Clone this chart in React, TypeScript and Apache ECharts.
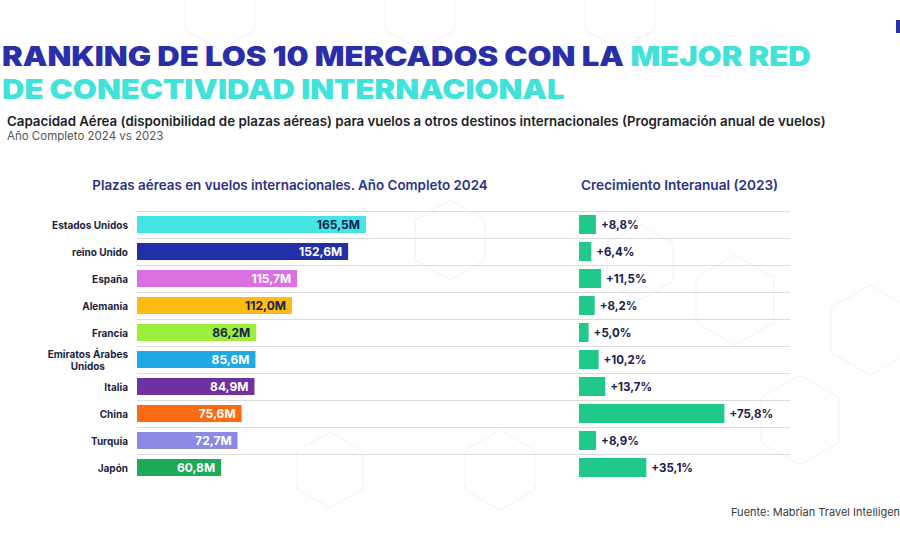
import React, { useEffect, useRef } from "react";
import * as echarts from "echarts";

const categories = [
  "Estados Unidos",
  "reino Unido",
  "España",
  "Alemania",
  "Francia",
  "Emiratos Árabes Unidos",
  "Italia",
  "China",
  "Turquía",
  "Japón",
];
const seats2024 = [165.5, 152.6, 115.7, 112.0, 86.2, 85.6, 84.9, 75.6, 72.7, 60.8];
const growthPct = [8.8, 6.4, 11.5, 8.2, 5.0, 10.2, 13.7, 75.8, 8.9, 35.1];

const barColors = [
  "#44e5e3",
  "#2230a8",
  "#dc6fe2",
  "#fdba13",
  "#9cee3b",
  "#20a9e6",
  "#6f30a0",
  "#fd6a14",
  "#8b8be6",
  "#1caa58",
];
const labelColors = [
  "#1b2050",
  "#ffffff",
  "#ffffff",
  "#1b2050",
  "#1b2050",
  "#ffffff",
  "#ffffff",
  "#ffffff",
  "#ffffff",
  "#ffffff",
];

const FONT = "Inter, 'Noto Sans', sans-serif";
const NAVY = "#2a2fa9";
const CYAN = "#40e2da";

const fmt = (v: number) => v.toFixed(1).replace(".", ",");

function hex(cx: number, cy: number, r: number) {
  const pts: number[][] = [];
  for (let i = 0; i < 6; i++) {
    const a = (Math.PI / 3) * i - Math.PI / 2;
    pts.push([cx + r * Math.cos(a), cy + r * Math.sin(a)]);
  }
  return {
    type: "polygon",
    silent: true,
    z: -10,
    shape: { points: pts },
    style: { fill: "none", stroke: "#f1f1f4", lineWidth: 1 },
  };
}

export default function App() {
  const ref = useRef<HTMLDivElement>(null);
  useEffect(() => {
    if (!ref.current) return;
    const chart = echarts.init(ref.current, null, { renderer: "svg" });
    const gridTop = 211;
    const gridH = 270;
    chart.setOption({
      animation: false,
      backgroundColor: "#ffffff",
      textStyle: { fontFamily: FONT },
      grid: [
        { left: 137, right: 110, top: gridTop, height: gridH, containLabel: false },
        { left: 579, right: 110, top: gridTop, height: gridH, containLabel: false },
      ],
      xAxis: [
        { type: "value", gridIndex: 0, min: 0, max: 472, show: false },
        { type: "value", gridIndex: 1, min: 0, max: 110, show: false },
      ],
      yAxis: [
        {
          type: "category",
          gridIndex: 0,
          data: categories,
          inverse: true,
          axisLine: { show: false },
          axisTick: { show: false },
          splitLine: { show: true, lineStyle: { color: "#dcdcdf", width: 1 } },
          axisLabel: {
            margin: 9,
            fontSize: 10,
            fontWeight: "bold",
            color: "#1b1f3d",
            fontFamily: FONT,
            formatter: (v: string) =>
              v === "Emiratos Árabes Unidos" ? "{c|Emiratos Árabes}\n{c|Unidos}" : v,
            rich: {
              c: {
                align: "center",
                fontSize: 10,
                fontWeight: "bold",
                color: "#1b1f3d",
                fontFamily: FONT,
                lineHeight: 12,
              },
            },
          },
        },
        {
          type: "category",
          gridIndex: 1,
          data: categories,
          inverse: true,
          show: false,
        },
      ],
      series: [
        {
          type: "bar",
          xAxisIndex: 0,
          yAxisIndex: 0,
          barWidth: 17,
          data: seats2024.map((v, i) => ({
            value: v,
            itemStyle: { color: barColors[i] },
            label: { color: labelColors[i] },
          })),
          label: {
            show: true,
            position: "insideRight",
            distance: 6,
            fontSize: 12,
            fontWeight: "bold",
            fontFamily: FONT,
            formatter: (p: any) => fmt(p.value) + "M",
          },
        },
        {
          type: "bar",
          xAxisIndex: 1,
          yAxisIndex: 1,
          barWidth: 19,
          itemStyle: { color: "#1fc98a" },
          data: growthPct,
          label: {
            show: true,
            position: "right",
            distance: 5,
            fontSize: 11.5,
            fontWeight: "bold",
            color: "#1b2050",
            fontFamily: FONT,
            formatter: (p: any) => "+" + fmt(p.value) + "%",
          },
        },
      ],
      graphic: [
        hex(450, 240, 40),
        hex(640, 262, 38),
        hex(735, 300, 45),
        hex(870, 330, 45),
        hex(800, 420, 45),
        hex(500, 470, 40),
        hex(330, 470, 38),
        hex(420, 10, 40),
        hex(220, 10, 40),
        hex(620, 10, 40),
        {
          type: "rect",
          z: 100,
          silent: true,
          shape: { x: 130, y: gridTop + gridH - 2, width: 680, height: 4 },
          style: { fill: "#ffffff" },
        },
        {
          type: "rect",
          shape: { x: 896, y: 20, width: 4, height: 13 },
          style: { fill: "#2a2fa9" },
        },
        {
          type: "text",
          x: 2,
          y: 56,
          scaleX: 1.15,
          style: {
            text: "{a|RANKING DE LOS 10 MERCADOS CON LA }{b|MEJOR RED}",
            verticalAlign: "middle",
            rich: {
              a: { fontFamily: FONT, fontWeight: 900, fontSize: 27, fill: NAVY },
              b: { fontFamily: FONT, fontWeight: 900, fontSize: 27, fill: CYAN },
            },
          },
        },
        {
          type: "text",
          x: 2,
          y: 89.5,
          scaleX: 1.15,
          style: {
            text: "DE CONECTIVIDAD INTERNACIONAL",
            verticalAlign: "middle",
            fontFamily: FONT,
            fontWeight: 900,
            fontSize: 27,
            fill: CYAN,
          },
        },
        {
          type: "text",
          x: 7,
          y: 121,
          style: {
            text:
              "Capacidad Aérea (disponibilidad de plazas aéreas) para vuelos a otros destinos internacionales (Programación anual de vuelos)",
            verticalAlign: "middle",
            fontFamily: FONT,
            fontWeight: 600,
            fontSize: 13.3,
            fill: "#1e1f2b",
          },
        },
        {
          type: "text",
          x: 7,
          y: 136,
          style: {
            text: "Año Completo 2024 vs 2023",
            verticalAlign: "middle",
            fontFamily: FONT,
            fontSize: 11.5,
            fill: "#555555",
          },
        },
        {
          type: "text",
          x: 290,
          y: 185,
          style: {
            text: "Plazas aéreas en vuelos internacionales. Año Completo 2024",
            align: "center",
            verticalAlign: "middle",
            fontFamily: FONT,
            fontWeight: 600,
            fontSize: 13.4,
            fill: "#2b3387",
          },
        },
        {
          type: "text",
          x: 581,
          y: 185,
          style: {
            text: "Crecimiento Interanual (2023)",
            verticalAlign: "middle",
            fontFamily: FONT,
            fontWeight: 600,
            fontSize: 13.6,
            fill: "#2b3387",
          },
        },
        {
          type: "text",
          x: 731,
          y: 512,
          style: {
            text: "Fuente: Mabrian Travel Intelligen",
            verticalAlign: "middle",
            fontFamily: FONT,
            fontSize: 11,
            fill: "#3a3a3a",
          },
        },
      ],
    });
    return () => chart.dispose();
  }, []);
  return (
    <div
      ref={ref}
      style={{ position: "fixed", left: 0, top: 0, width: 900, height: 540 }}
    />
  );
}
